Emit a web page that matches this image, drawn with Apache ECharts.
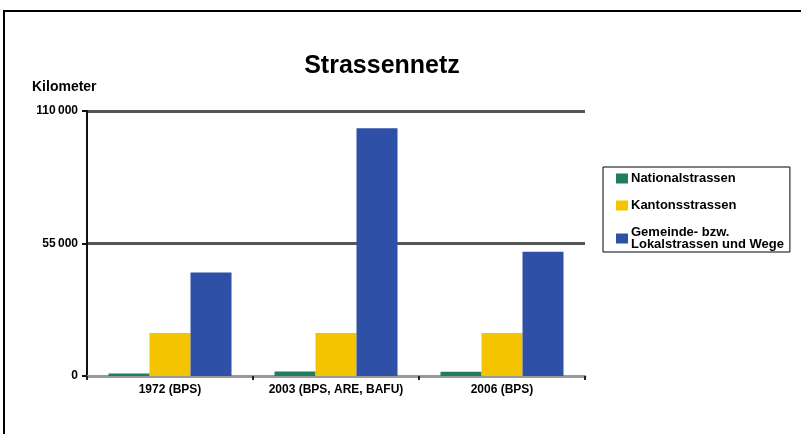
<!DOCTYPE html>
<html>
<head>
<meta charset="utf-8">
<script src="https://cdn.jsdelivr.net/npm/echarts@6/dist/echarts.min.js"></script>
<style>
  html, body { margin: 0; padding: 0; background: #fff; }
  #strassennetz { width: 801px; height: 434px; }
</style>
</head>
<body>
<div id="strassennetz"></div>
<script>
// data (km)
var categories = ["1972 (BPS)", "2003 (BPS, ARE, BAFU)", "2006 (BPS)"];
var nationalstrassen = [1000, 1900, 1800];
var kantonsstrassen = [17800, 17800, 17800];
var gemeindestrassen = [43000, 102800, 51600];
var yTicks = [0, 55000, 110000];

var FONT = "Liberation Sans";

var chart = echarts.init(document.getElementById("strassennetz"));

var option = {
  backgroundColor: "#fff",
  animation: false,
  title: [
    {
      text: "Strassennetz",
      left: 377,
      textAlign: "center",
      top: 49,
      textStyle: { fontFamily: FONT, fontSize: 25, fontWeight: "bold", color: "#000" }
    },
    {
      text: "Kilometer",
      left: 27,
      top: 75,
      textStyle: { fontFamily: FONT, fontSize: 14, fontWeight: "bold", color: "#000" }
    }
  ],
  legend: {
    orient: "vertical",
    left: 603,
    top: 167,
    padding: [5, 6, 1, 13],
    itemGap: 14,
    itemWidth: 12,
    itemHeight: 10,
    borderColor: "#000",
    borderWidth: 1,
    icon: "rect",
    textStyle: { fontFamily: FONT, fontSize: 13, fontWeight: "bold", color: "#000", lineHeight: 12, padding: [0, 0, 0, -2] },
    data: ["Nationalstrassen", "Kantonsstrassen", "Gemeinde- bzw.\nLokalstrassen und Wege"]
  },
  grid: { left: 87, right: 216, top: 111, bottom: 58 },
  xAxis: {
    type: "category",
    data: categories,
    axisLine: { lineStyle: { color: "#999", width: 3 } },
    axisTick: { show: true, length: 4, lineStyle: { color: "#222", width: 2 } },
    axisLabel: { interval: 0, fontFamily: FONT, fontSize: 12, fontWeight: "bold", color: "#000", margin: 8 }
  },
  yAxis: {
    type: "value",
    min: yTicks[0],
    max: yTicks[yTicks.length - 1],
    interval: yTicks[1] - yTicks[0],
    axisLine: { show: true, lineStyle: { color: "#111", width: 2 } },
    axisTick: { show: true, length: 5, lineStyle: { color: "#111", width: 2 } },
    splitLine: { lineStyle: { color: "#555", width: 3 } },
    axisLabel: {
      fontFamily: FONT, fontSize: 12, fontWeight: "bold", color: "#000", margin: 9,
      formatter: function (v) {
        return String(v).replace(/\B(?=(\d{3})+(?!\d))/g, "\u202F");
      }
    }
  },
  series: [
    {
      name: "Nationalstrassen",
      type: "bar",
      data: nationalstrassen,
      barWidth: 41,
      barGap: "0%",
      barCategoryGap: "26%",
      itemStyle: { color: "#1f7f58" }
    },
    {
      name: "Kantonsstrassen",
      type: "bar",
      data: kantonsstrassen,
      barWidth: 41,
      barGap: "0%",
      itemStyle: { color: "#f5c400" }
    },
    {
      name: "Gemeinde- bzw.\nLokalstrassen und Wege",
      type: "bar",
      data: gemeindestrassen,
      barWidth: 41,
      barGap: "0%",
      itemStyle: { color: "#2e50a6" }
    }
  ],
  graphic: [
    {
      // frame top and left edge
      type: "polyline",
      shape: { points: [[4, 434], [4, 11], [801, 11]] },
      style: { stroke: "#000", lineWidth: 2, fill: null },
      silent: true
    }
  ]
};

chart.setOption(option);
</script>
</body>
</html>
